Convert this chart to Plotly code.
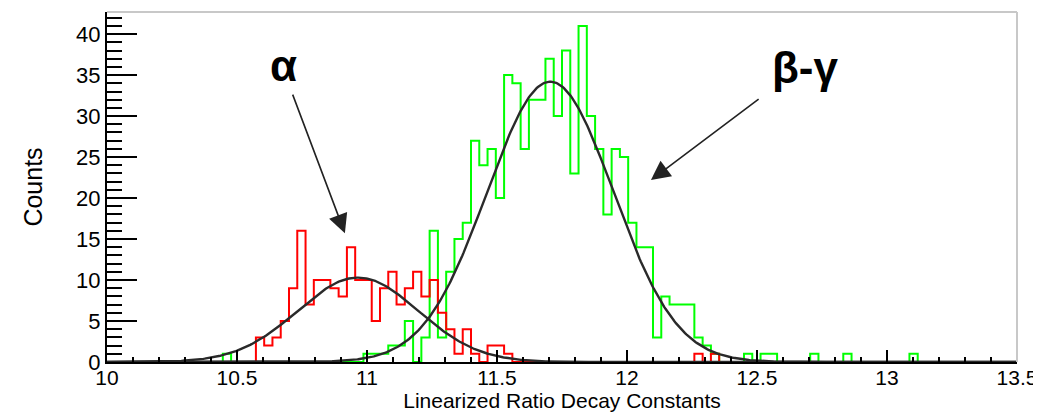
import numpy as np
import plotly.graph_objects as go

# ---------------- data ----------------
x_min, x_max = 10.0, 13.5
n_bins = 110

# counts per bin (110 bins from 10 to 13.5)
red_counts = (
    [0] * 18 +
    [3, 2, 3, 5, 9, 16, 7, 10, 10, 9, 8, 14, 10, 10, 5, 9, 11, 7, 9, 11,
     8, 10, 6, 4, 1, 4, 1, 0, 2, 2, 1] +
    [0] * 22 + [1, 0, 1] + [0] * 36
)

green_counts = (
    [0] * 14 + [1] + [0] * 16 +
    [1, 1, 1, 2, 2, 5, 0, 3, 16, 3, 11, 15, 17, 27, 24, 26, 20, 35, 34, 26,
     32, 32, 37, 30, 38, 23, 41, 30, 26, 18, 26, 25, 17, 14, 14, 3, 8, 7, 7, 7,
     3, 2, 1, 0, 0, 0, 1, 0, 1, 1, 0, 0, 0, 0, 1, 0, 0, 0, 1, 0,
     0, 0, 0, 0, 0, 0, 1] +
    [0] * 12
)

# Gaussian fit parameters
alpha_amp, alpha_mean, alpha_sigma = 10.3, 10.965, 0.232
bg_amp, bg_mean, bg_sigma = 34.2, 11.705, 0.243

x_tick_vals = [10, 10.5, 11, 11.5, 12, 12.5, 13, 13.5]
x_tick_text = ["10", "10.5", "11", "11.5", "12", "12.5", "13", "13.5"]
y_tick_vals = [0, 5, 10, 15, 20, 25, 30, 35, 40]

# ---------------- build ----------------
edges = np.linspace(x_min, x_max, n_bins + 1)


def step_y(counts):
    return list(counts) + [counts[-1]]


fig = go.Figure()

fig.add_trace(go.Scatter(
    x=edges, y=step_y(green_counts), mode="lines", line_shape="hv",
    line=dict(color="#00ff00", width=2), showlegend=False))
fig.add_trace(go.Scatter(
    x=edges, y=step_y(red_counts), mode="lines", line_shape="hv",
    line=dict(color="#ff0000", width=2), showlegend=False))

xf = np.linspace(x_min, x_max, 700)
fig.add_trace(go.Scatter(
    x=xf, y=alpha_amp * np.exp(-0.5 * ((xf - alpha_mean) / alpha_sigma) ** 2),
    mode="lines", line=dict(color="#2a2a2a", width=2.4), showlegend=False))
fig.add_trace(go.Scatter(
    x=xf, y=bg_amp * np.exp(-0.5 * ((xf - bg_mean) / bg_sigma) ** 2),
    mode="lines", line=dict(color="#2a2a2a", width=2.4), showlegend=False))

font_family = "Liberation Sans, Arial, sans-serif"

fig.update_layout(
    width=1033, height=409,
    margin=dict(l=99, r=24, t=4, b=55),
    paper_bgcolor="white", plot_bgcolor="white",
    showlegend=False,
    xaxis=dict(
        range=[x_min, x_max], tickvals=x_tick_vals, ticktext=x_tick_text,
        ticks="inside", ticklen=12, tickwidth=1.5, tickcolor="black",
        minor=dict(dtick=0.1, tick0=10, ticks="inside", ticklen=5,
                   tickwidth=1.5, tickcolor="black"),
        showline=True, linecolor="black", linewidth=2,
        showgrid=False, zeroline=False,
        ticklabelstandoff=-4,
        tickfont=dict(family=font_family, size=21, color="black"),
        title=dict(text="Linearized Ratio Decay Constants",
                   font=dict(family=font_family, size=21, color="black"),
                   standoff=2),
        automargin=False,
    ),
    yaxis=dict(
        range=[0, 42.7], tickvals=y_tick_vals,
        ticks="inside", ticklen=30, tickwidth=1.5, tickcolor="black",
        minor=dict(dtick=1, tick0=0, ticks="inside", ticklen=15,
                   tickwidth=1.5, tickcolor="black"),
        showline=True, linecolor="black", linewidth=2,
        showgrid=False, zeroline=False,
        tickfont=dict(family=font_family, size=22, color="black"),
        title=dict(text="Counts",
                   font=dict(family=font_family, size=25, color="black"),
                   standoff=26),
        automargin=False,
    ),
    shapes=[
        dict(type="line", xref="paper", yref="paper", x0=0, x1=1, y0=1, y1=1,
             line=dict(color="#c8c8c8", width=2)),
        dict(type="line", xref="paper", yref="paper", x0=1, x1=1, y0=0, y1=1,
             line=dict(color="#c8c8c8", width=2)),
    ],
    annotations=[
        dict(x=10.677, y=36.2, xref="x", yref="y", text="<b>α</b>",
             showarrow=False,
             font=dict(family=font_family, size=44, color="black")),
        dict(x=12.685, y=35.9, xref="x", yref="y", text="<b>β-γ</b>",
             showarrow=False,
             font=dict(family=font_family, size=44, color="black")),
        dict(x=10.915, y=15.7, ax=10.712, ay=32.8, xref="x", yref="y",
             axref="x", ayref="y", text="", showarrow=True, arrowhead=2,
             arrowsize=2.4, arrowwidth=1.6, arrowcolor="#222222"),
        dict(x=12.092, y=22.2, ax=12.512, ay=32.2, xref="x", yref="y",
             axref="x", ayref="y", text="", showarrow=True, arrowhead=2,
             arrowsize=2.4, arrowwidth=1.6, arrowcolor="#222222"),
    ],
)

fig.write_html("out.html")
